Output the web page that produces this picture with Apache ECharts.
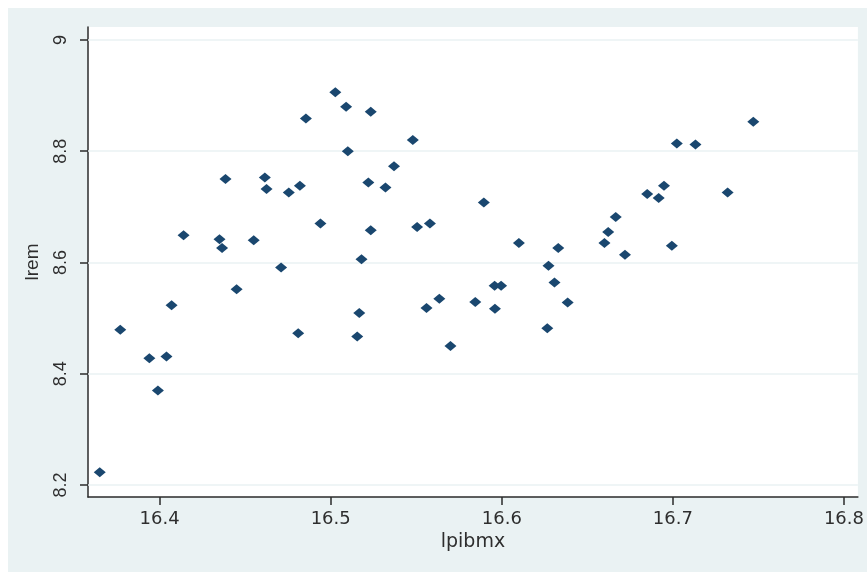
<!DOCTYPE html>
<html>
<head>
<meta charset="utf-8">
<script src="https://cdn.jsdelivr.net/npm/echarts@6/dist/echarts.min.js"></script>
<style>
  html, body { margin: 0; padding: 0; background: #ffffff; width: 867px; height: 572px; overflow: hidden; }
  #chart { position: absolute; left: 8px; top: 8px; width: 859px; height: 564px; }
</style>
</head>
<body>
<div id="chart"></div>
<script>
// lpibmx (x) values
const lpibmx = [
  16.365, 16.377, 16.394, 16.404, 16.399, 16.407, 16.414, 16.4385, 16.435, 16.4365,
  16.445, 16.455, 16.4615, 16.4625, 16.471, 16.4755, 16.482, 16.481, 16.4855, 16.494,
  16.5027, 16.509, 16.510, 16.5155, 16.5167, 16.518, 16.522, 16.5234, 16.5234, 16.532,
  16.537, 16.548, 16.5505, 16.558, 16.556, 16.5635, 16.570, 16.5845, 16.5895, 16.5958,
  16.5996, 16.596, 16.610, 16.6266, 16.6273, 16.6308, 16.633, 16.6385, 16.660, 16.6622,
  16.6666, 16.672, 16.685, 16.6917, 16.6948, 16.6994, 16.7023, 16.7132, 16.732, 16.747
];
// lrem (y) values
const lrem = [
  8.223, 8.479, 8.428, 8.431, 8.370, 8.523, 8.649, 8.750, 8.642, 8.626,
  8.552, 8.640, 8.753, 8.732, 8.591, 8.726, 8.738, 8.473, 8.859, 8.670,
  8.906, 8.880, 8.800, 8.467, 8.509, 8.606, 8.744, 8.871, 8.658, 8.735,
  8.773, 8.820, 8.664, 8.670, 8.518, 8.535, 8.450, 8.529, 8.708, 8.558,
  8.558, 8.517, 8.635, 8.482, 8.594, 8.564, 8.626, 8.528, 8.635, 8.655,
  8.682, 8.614, 8.723, 8.716, 8.738, 8.630, 8.814, 8.812, 8.726, 8.853
];
const xTicks = [16.4, 16.5, 16.6, 16.7, 16.8];
const yTicks = [8.2, 8.4, 8.6, 8.8, 9];
const xTitle = 'lpibmx';
const yTitle = 'lrem';

const points = lpibmx.map((x, i) => [x, lrem[i]]);

const chart = echarts.init(document.getElementById('chart'), null, { renderer: 'canvas' });
const axisColor = '#2b2b2b';
const textColor = '#2e2e2e';

chart.setOption({
  backgroundColor: '#eaf2f3',
  animation: false,
  grid: {
    left: 80, top: 19, right: 5, bottom: 75,
    show: true, backgroundColor: '#ffffff', borderWidth: 0
  },
  xAxis: {
    type: 'value',
    min: 16.35814, max: 16.80814,
    name: xTitle, nameLocation: 'middle', nameGap: 25,
    nameTextStyle: { fontFamily: 'DejaVu Sans', fontSize: 19, color: textColor },
    axisLine: { show: true, onZero: false, lineStyle: { color: axisColor, width: 1.5 } },
    axisTick: { show: true, length: 8, customValues: xTicks, lineStyle: { color: axisColor, width: 1.5 } },
    axisLabel: {
      customValues: xTicks, margin: 13,
      fontFamily: 'DejaVu Sans', fontSize: 18, color: textColor,
      formatter: v => String(Math.round(v * 10) / 10)
    },
    splitLine: { show: false }
  },
  yAxis: {
    type: 'value',
    min: 8.17840, max: 9.02337,
    name: yTitle, nameLocation: 'middle', nameGap: 46, nameRotate: 90,
    nameTextStyle: { fontFamily: 'Liberation Sans', fontSize: 19, color: textColor },
    axisLine: { show: true, onZero: false, lineStyle: { color: axisColor, width: 1.5 } },
    axisTick: { show: true, length: 8, customValues: yTicks, lineStyle: { color: axisColor, width: 1.5 } },
    axisLabel: {
      customValues: yTicks, margin: 18, rotate: 90,
      fontFamily: 'Liberation Sans', fontSize: 18, color: textColor,
      formatter: v => String(Math.round(v * 10) / 10)
    },
    splitLine: { show: false }
  },
  series: [
    {
      type: 'scatter',
      data: [],
      z: 1,
      markLine: {
        silent: true,
        symbol: 'none',
        label: { show: false },
        lineStyle: { color: '#eaf2f3', width: 1.5, type: 'solid' },
        data: yTicks.map(v => ({ yAxis: v }))
      }
    },
    {
      type: 'scatter',
      data: points,
      symbol: 'diamond',
      symbolSize: [12, 10],
      itemStyle: { color: '#1a476f', opacity: 1 },
      z: 5
    }
  ]
});
</script>
</body>
</html>
